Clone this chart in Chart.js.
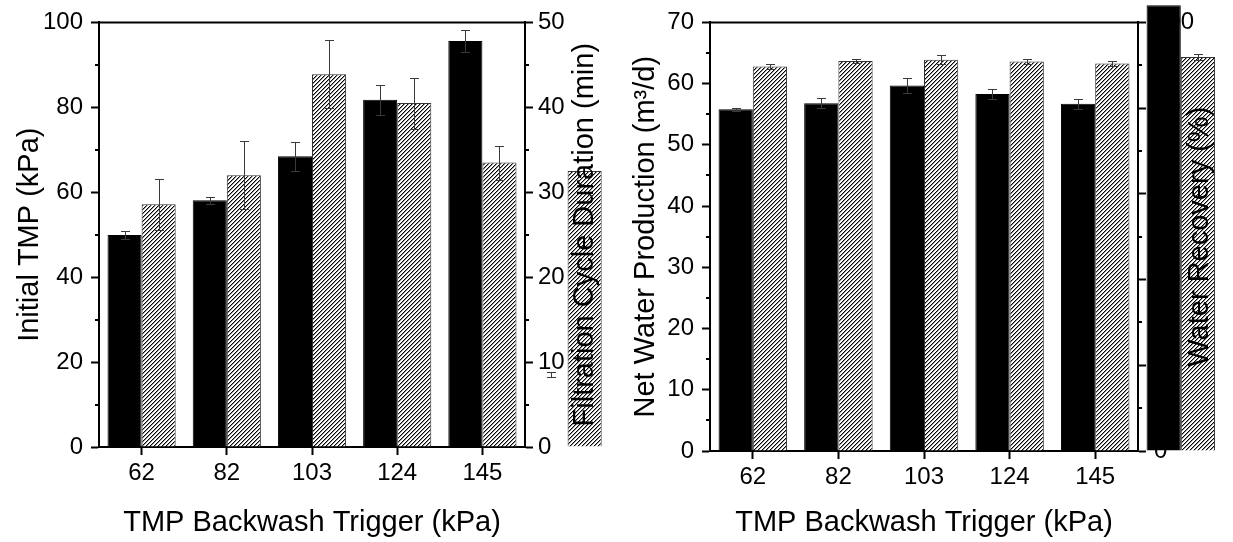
<!DOCTYPE html>
<html>
<head>
<meta charset="utf-8">
<script src="https://cdn.jsdelivr.net/npm/chart.js@4.4.1/dist/chart.umd.min.js"></script>
<style>
  html, body { margin: 0; padding: 0; background: #fff; }
  #wrap { position: relative; width: 1233px; height: 542px; }
  canvas { position: absolute; top: 0; }
  #left { left: 0; }
  #right { left: 616px; }
</style>
</head>
<body>
<div id="wrap">
  <canvas id="left" width="616" height="542"></canvas>
  <canvas id="right" width="617" height="542"></canvas>
</div>
<script>
// categories (last one is the stray bar drawn past the frame)
const triggers = ['62', '82', '103', '124', '145', ''];

// left panel
const initialTMP = [49.9, 58.1, 68.5, 81.8, 95.6, 17.1];
const initialTMPErr = [0.9, 0.8, 3.4, 3.5, 2.6, 0.6];
const cycleDuration = [28.6, 32.0, 43.9, 40.5, 33.5, 32.5];
const cycleDurationErr = [3.0, 4.0, 4.0, 3.0, 2.0, 0];

// right panel
const netProduction = [55.8, 56.8, 59.7, 58.3, 56.7, 72.8];
const netProductionErr = [0.2, 0.8, 1.3, 0.8, 0.8, 0];
const waterRecovery = [89.7, 91.0, 91.3, 90.9, 90.4, 91.9];
const waterRecoveryErr = [0.5, 0.5, 1.0, 0.65, 0.65, 0.65];

const FONT = '"Liberation Sans", Arial, sans-serif';
Chart.defaults.font.family = FONT;
Chart.defaults.color = '#000';

function hatch(ctx) {
    const c = document.createElement('canvas');
    c.width = 4; c.height = 4;
    const g = c.getContext('2d');
    const img = g.createImageData(4, 4);
    for (let y = 0; y < 4; y++) {
        for (let x = 0; x < 4; x++) {
            const k = (y * 4 + x) * 4;
            const d = (x + y) % 4;
            const v = d === 3 ? 0 : (d === 0 ? 150 : 255);
            img.data[k] = img.data[k + 1] = img.data[k + 2] = v;
            img.data[k + 3] = 255;
        }
    }
    g.putImageData(img, 0, 0);
    return ctx.createPattern(c, 'repeat');
}

// frame top, minor ticks, error bars, right-hand title over the bars
const panelPlugin = {
    id: 'panel',
    beforeDatasetsDraw(chart, args, o) {
        const { ctx, chartArea: a } = chart;
        ctx.save();
        ctx.strokeStyle = '#000';
        ctx.lineWidth = 2;
        ctx.beginPath(); ctx.moveTo(a.left, a.top); ctx.lineTo(a.right, a.top); ctx.stroke();
        ['y', 'y2'].forEach(id => {
            const s = chart.scales[id];
            const left = s.position === 'left';
            s.ticks.forEach(t => {
                if (t.value % o.major[id] === 0) return;
                const py = Math.round(s.getPixelForValue(t.value));
                const x0 = left ? s.right : s.left;
                ctx.beginPath(); ctx.moveTo(x0, py); ctx.lineTo(x0 + (left ? -4 : 4), py); ctx.stroke();
            });
        });
        ctx.restore();
    },
    afterDatasetsDraw(chart, args, o) {
        const ctx = chart.ctx;
        ctx.save();
        ctx.strokeStyle = '#3a3a3a';
        ctx.lineWidth = 1;
        chart.data.datasets.forEach((ds, di) => {
            const meta = chart.getDatasetMeta(di);
            const ys = chart.scales[ds.yAxisID];
            meta.data.forEach((bar, i) => {
                const e = ds.errors[i];
                if (!e) return;
                const x = Math.round(bar.x) + 0.5;
                const top = Math.round(ys.getPixelForValue(ds.data[i] + e)) + 0.5;
                const bot = Math.round(ys.getPixelForValue(ds.data[i] - e)) + 0.5;
                ctx.beginPath();
                ctx.moveTo(x, top); ctx.lineTo(x, bot);
                ctx.moveTo(x - 4.5, top); ctx.lineTo(x + 4.5, top);
                ctx.moveTo(x - 4.5, bot); ctx.lineTo(x + 4.5, bot);
                ctx.stroke();
            });
        });
        const a = chart.chartArea;
        ctx.fillStyle = '#000';
        ctx.font = '29px ' + FONT;
        ctx.translate(o.titleX, (a.top + a.bottom) / 2);
        ctx.rotate(-Math.PI / 2);
        ctx.textAlign = 'center';
        ctx.textBaseline = 'middle';
        ctx.fillText(o.title, 0, 0);
        ctx.restore();
    }
};

function panel(id, o) {
    const ctx = document.getElementById(id).getContext('2d');
    return new Chart(ctx, {
        type: 'bar',
        data: {
            labels: triggers,
            datasets: [
                {
                    data: o.black, errors: o.blackErr, yAxisID: 'y',
                    backgroundColor: o.blackColors, borderColor: o.blackColors, borderWidth: 1,
                    categoryPercentage: 0.8, barPercentage: 1.0, clip: false
                },
                {
                    data: o.hatched, errors: o.hatchedErr, yAxisID: 'y2',
                    backgroundColor: hatch(ctx), borderColor: '#333', borderWidth: 1,
                    categoryPercentage: 0.8, barPercentage: 1.0, clip: false
                }
            ]
        },
        options: {
            responsive: false, animation: false,
            layout: { padding: { top: 22, left: 0, right: 0, bottom: 0 } },
            plugins: {
                legend: { display: false }, tooltip: { enabled: false },
                panel: { titleX: o.y2TitleX, title: o.y2Title, major: { y: o.yStep, y2: o.y2Step } }
            },
            scales: {
                x: {
                    type: 'category', max: '145', offset: true,
                    grid: { drawOnChartArea: false, offset: false, tickLength: 8, tickWidth: 2, tickColor: '#000' },
                    border: { color: '#000', width: 2 },
                    ticks: { font: { size: 24 }, color: '#000', padding: 4, maxRotation: 0, autoSkip: false },
                    title: { display: true, text: 'TMP Backwash Trigger (kPa)', font: { size: 29 }, color: '#000', padding: { top: 0, bottom: 2 } },
                    afterFit: s => { s.height = o.xHeight; }
                },
                y: {
                    position: 'left', min: 0, max: o.yMax,
                    ticks: { stepSize: o.yStep / 2, autoSkip: false, font: { size: 24 }, color: '#000', padding: 8,
                        callback: v => v % o.yStep === 0 ? v : '' },
                    grid: { drawOnChartArea: false, tickLength: 8, tickWidth: 2,
                        tickColor: c => (c.tick && c.tick.value % o.yStep === 0) ? '#000' : 'rgba(0,0,0,0)' },
                    border: { color: '#000', width: 2 },
                    title: { display: true, text: o.yTitle, font: { size: 29 }, color: '#000', padding: { top: 13, bottom: 0 } },
                    afterFit: s => { s.width = o.yWidth; }
                },
                y2: {
                    position: 'right', min: 0, max: o.y2Max,
                    ticks: { stepSize: o.y2Step / 2, autoSkip: false, font: { size: 24 }, color: '#000', padding: o.y2Pad,
                        callback: v => v % o.y2Step === 0 ? v : '' },
                    grid: { drawOnChartArea: false, tickLength: 8, tickWidth: 2,
                        tickColor: c => (c.tick && c.tick.value % o.y2Step === 0) ? '#000' : 'rgba(0,0,0,0)' },
                    border: { color: '#000', width: 2 },
                    afterFit: s => { s.width = o.y2Width; }
                }
            }
        },
        plugins: [panelPlugin]
    });
}

panel('left', {
    black: initialTMP, blackErr: initialTMPErr,
    blackColors: ['#000', '#000', '#000', '#000', '#000', 'rgba(0,0,0,0)'],
    hatched: cycleDuration, hatchedErr: cycleDurationErr,
    yMax: 100, yStep: 20, yTitle: 'Initial TMP (kPa)', yWidth: 99,
    y2Max: 50, y2Step: 10, y2Title: 'Filtration Cycle Duration (min)', y2Width: 91, y2Pad: 5, y2TitleX: 585,
    xHeight: 95
});

panel('right', {
    black: netProduction, blackErr: netProductionErr,
    blackColors: '#000',
    hatched: waterRecovery, hatchedErr: waterRecoveryErr,
    yMax: 70, yStep: 10, yTitle: 'Net Water Production (m³/d)', yWidth: 94,
    y2Max: 100, y2Step: 20, y2Title: 'Water Recovery (%)', y2Width: 95, y2Pad: 8, y2TitleX: 584,
    xHeight: 91
});
</script>
</body>
</html>
